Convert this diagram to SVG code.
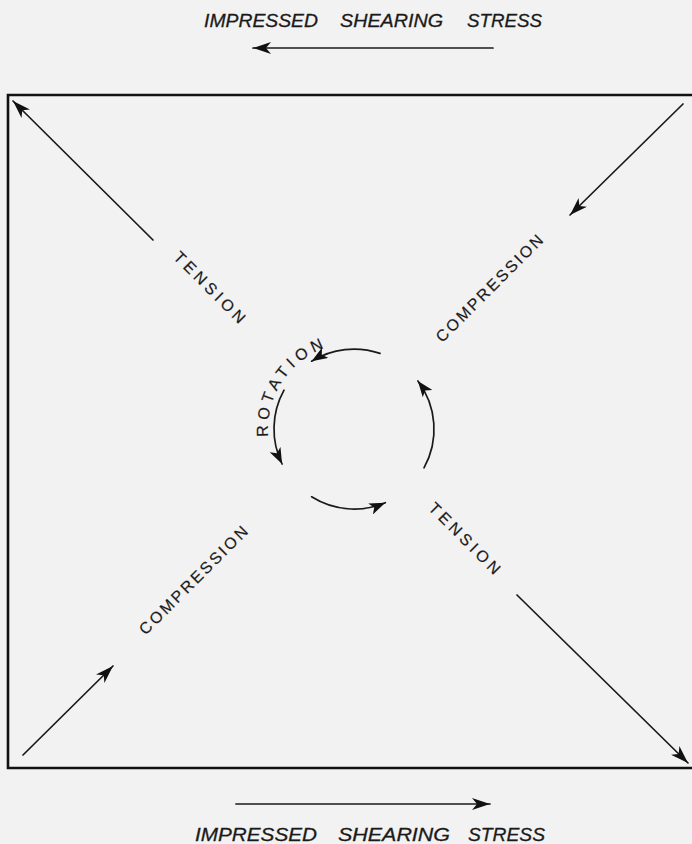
<svg xmlns="http://www.w3.org/2000/svg" width="692" height="844" viewBox="0 0 692 844">
<style>
.ln{fill:none;stroke:#1a1a1a;stroke-width:1.7;stroke-linecap:round}
.box{fill:none;stroke:#111;stroke-width:2.6}
.title{font-family:"Liberation Sans",Arial,sans-serif;font-style:italic;font-size:19px;fill:#1a1a1a;stroke:#1a1a1a;stroke-width:0.3}
.lbl{font-family:"Liberation Sans",Arial,sans-serif;font-size:16px;fill:#1a1a1a;stroke:#1a1a1a;stroke-width:0.2}
</style>
<defs>
<marker id="ah" markerUnits="userSpaceOnUse" markerWidth="20" markerHeight="12" refX="18" refY="6" orient="auto">
<path d="M18,6 L0,0 L5,6 L0,12 Z" fill="#111"/>
</marker>
<marker id="ahs" markerUnits="userSpaceOnUse" markerWidth="17" markerHeight="12" refX="16" refY="6" orient="auto">
<path d="M16,6 L0,0 L4,6 L0,12 Z" fill="#111"/>
</marker>
<path id="rotpath" d="M268.3,436.5 A86,86 0 0 1 346.5,343.3"/>
</defs>
<rect width="692" height="844" fill="#f2f2f2"/>
<g id="frame"><path class="box" d="M700,95 L8,95 L8,768 L700,768"/></g>
<g id="connectors">
<line class="ln" x1="493" y1="48" x2="253" y2="48" marker-end="url(#ah)"/>
<line class="ln" x1="236" y1="804" x2="490" y2="804" marker-end="url(#ah)"/>
<line class="ln" x1="153" y1="240" x2="13" y2="101" marker-end="url(#ah)"/>
<line class="ln" x1="683" y1="104" x2="570" y2="215" marker-end="url(#ah)"/>
<line class="ln" x1="23" y1="755" x2="113" y2="666" marker-end="url(#ah)"/>
<line class="ln" x1="517" y1="595" x2="688" y2="763" marker-end="url(#ah)"/>
<path class="ln" d="M380,353.4 A80,80 0 0 0 311.6,361.2" marker-end="url(#ahs)"/>
<path class="ln" d="M284,390.2 A80,80 0 0 0 282.1,464" marker-end="url(#ahs)"/>
<path class="ln" d="M311.6,496.8 A80,80 0 0 0 385.3,502.7" marker-end="url(#ahs)"/>
<path class="ln" d="M424,467.8 A80,80 0 0 0 417.9,380.9" marker-end="url(#ahs)"/>
</g>
<g id="title-top">
<text class="title" x="204" y="27" textLength="114" lengthAdjust="spacingAndGlyphs">IMPRESSED</text>
<text class="title" x="340" y="27" textLength="103" lengthAdjust="spacingAndGlyphs">SHEARING</text>
<text class="title" x="467" y="27" textLength="75" lengthAdjust="spacingAndGlyphs">STRESS</text>
</g>
<g id="title-bottom">
<text class="title" x="195" y="841" textLength="122" lengthAdjust="spacingAndGlyphs">IMPRESSED</text>
<text class="title" x="338" y="841" textLength="112" lengthAdjust="spacingAndGlyphs">SHEARING</text>
<text class="title" x="468" y="841" textLength="77" lengthAdjust="spacingAndGlyphs">STRESS</text>
</g>
<g id="tension-1"><text class="lbl" transform="translate(210,287) rotate(45)" x="-47" y="6" textLength="94" lengthAdjust="spacing">TENSION</text></g>
<g id="compression-1"><text class="lbl" transform="translate(489,288) rotate(-45)" x="-72" y="6" textLength="144" lengthAdjust="spacing">COMPRESSION</text></g>
<g id="tension-2"><text class="lbl" transform="translate(465,538) rotate(45)" x="-47" y="6" textLength="94" lengthAdjust="spacing">TENSION</text></g>
<g id="compression-2"><text class="lbl" transform="translate(193,580) rotate(-45)" x="-73" y="6" textLength="146" lengthAdjust="spacing">COMPRESSION</text></g>
<g id="rotation"><text class="lbl"><textPath href="#rotpath" textLength="112" lengthAdjust="spacing">ROTATION</textPath></text></g>
</svg>
